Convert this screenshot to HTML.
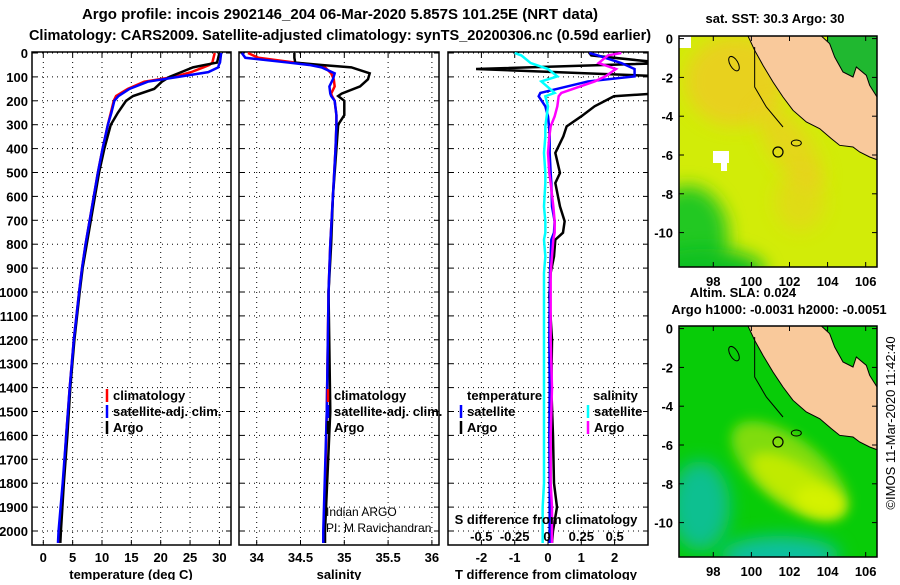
<!DOCTYPE html>
<html><head><meta charset="utf-8"><style>
body{margin:0;background:#fff;width:900px;height:580px;overflow:hidden}
svg text{font-family:"Liberation Sans",sans-serif;font-weight:bold;font-size:13px;fill:#000}
</style></head><body>
<svg id="s" width="900" height="580" viewBox="0 0 900 580">
<defs>
<clipPath id="c1"><rect x="32" y="52" width="199" height="493"/></clipPath>
<clipPath id="c2"><rect x="239" y="52" width="200" height="493"/></clipPath>
<clipPath id="c3"><rect x="448" y="52" width="200" height="493"/></clipPath>
<clipPath id="cm1"><rect x="679" y="36" width="198" height="231"/></clipPath>
<clipPath id="cm2"><rect x="679" y="326" width="198" height="231"/></clipPath>
<filter id="bl" x="-50%" y="-50%" width="200%" height="200%"><feGaussianBlur stdDeviation="9"/></filter>
<filter id="bl2" x="-50%" y="-50%" width="200%" height="200%"><feGaussianBlur stdDeviation="6"/></filter>
</defs>
<text x="340" y="19" text-anchor="middle" style="font-size:15px">Argo profile: incois 2902146_204 06-Mar-2020 5.857S 101.25E (NRT data)</text>
<text x="340" y="40" text-anchor="middle" style="font-size:14.5px">Climatology: CARS2009. Satellite-adjusted climatology: synTS_20200306.nc (0.59d earlier)</text>
<g id="g"></g>
</svg>
<script>
// depth levels (dbar)
const depthT = [0,40,50,60,80,100,120,150,180,200,250,300,400,500,600,700,800,900,1000,1200,1400,1600,1800,2000,2050];
const tempArgo = [30,29.6,27.5,25.5,23.5,21.5,20.2,18.9,15.3,14.1,12.7,11.5,10.4,9.5,8.8,8.1,7.4,6.7,6.2,5.3,4.6,4.1,3.5,3.0,2.9];
const tempClim = [29.2,28.8,28.3,27.3,25.2,22.3,17.2,14.4,12.4,12.0,11.5,11.0,10.1,9.3,8.6,7.9,7.2,6.6,6.1,5.2,4.5,3.9,3.4,2.8,2.6];
const tempSat  = [30.3,30.1,29.9,29.8,28.1,23.0,17.8,14.7,12.8,12.1,11.6,11.0,10.1,9.3,8.6,7.9,7.2,6.6,6.1,5.2,4.5,3.9,3.3,2.6,2.5];
const depthS = [0,20,40,50,60,85,110,140,170,180,200,260,300,400,600,800,1000,1500,2000,2050];
const salArgo = [34.43,34.43,34.44,34.74,35.08,35.29,35.27,35.18,34.97,34.93,35.0,35.0,34.93,34.91,34.87,34.85,34.82,34.84,34.78,34.78];
const salClim = [33.9,34.02,34.44,34.67,34.78,34.85,34.88,34.89,34.85,34.86,34.89,34.91,34.91,34.9,34.87,34.84,34.82,34.8,34.77,34.76];
const salSat  = [33.83,33.87,34.36,34.6,34.74,34.89,34.87,34.83,34.84,34.85,34.89,34.91,34.91,34.9,34.87,34.84,34.82,34.8,34.76,34.76];
const depthD = [0,10,42,67,98,119,167,181,223,265,307,349,418,502,544,642,704,752,781,851,920,1018,1200,1400,1600,1800,1900,2000,2050];
const tdiffArgo = [1.24,1.3,3.5,-2.16,3.5,3.5,3.5,1.98,1.4,1.0,0.56,0.46,0.22,0.36,0.22,0.36,0.5,0.45,0.22,0.18,0.08,0.04,0.12,0.1,0.15,0.18,0.27,0.15,0.12];
const tdiffSat = [1.24,1.5,2.2,2.6,2.6,1.2,-0.23,-0.28,-0.08,0,0.03,0.05,0.05,0.08,0.1,0.12,0.2,0.18,0.1,0.08,0.06,0.05,0.04,0.05,0.04,0.05,0.05,0.05,0.05];
const sdiffSat = [-0.25,-0.2,-0.13,0.0,0.07,-0.05,0.05,-0.02,0,-0.01,-0.02,-0.02,-0.03,-0.02,-0.02,-0.03,-0.02,-0.02,-0.03,-0.02,-0.03,-0.03,-0.03,-0.03,-0.03,-0.03,-0.04,-0.04,-0.04];
const sdiffArgo = [0.55,0.45,0.38,0.51,0.43,0.35,0.1,0.08,0.07,0.05,0.02,0.01,0,0.01,0.02,0.04,0.05,0.05,0.04,0.03,0.02,0.02,0.02,0.03,0.02,0.02,0.03,0.03,0.03];
const depthTicks = [0,100,200,300,400,500,600,700,800,900,1000,1100,1200,1300,1400,1500,1600,1700,1800,1900,2000];
const tTicks = [0,5,10,15,20,25,30];
const sTicks = [34,34.5,35,35.5,36];
const dTicks = [-2,-1,0,1,2];
const sdTicks = [-0.5,-0.25,0,0.25,0.5];
const lonTicks = [98,100,102,104,106];
const latTicks = [0,-2,-4,-6,-8,-10];

const NS='http://www.w3.org/2000/svg', G=document.getElementById('g');
function el(t,a,p){const e=document.createElementNS(NS,t);for(const k in a)e.setAttribute(k,a[k]);(p||G).appendChild(e);return e;}
function txt(x,y,s,anchor,extra){const e=el('text',Object.assign({x:x,y:y,'text-anchor':anchor||'start'},extra||{}));e.textContent=s;return e;}
const yD=d=>53+0.239*d;
const xT=t=>43.3+5.87*t;
const xS=s=>256.7+87.6*(s-34);
const xTd=t=>548+33.3*t;
const xSd=s=>548+133.3*s;
const lonX=(o,l)=>o+ (l-96.2)*19.05;
const latY=(o,l)=>o+ (0-l)*19.4 + 2.6;

function panel(x0,w,name){
  const r=el('rect',{x:x0,y:52,width:w,height:493,fill:'none',stroke:'#000','stroke-width':1.5});
  
  
  depthTicks.forEach(d=>{el('line',{x1:x0,x2:x0+w,y1:yD(d),y2:yD(d),stroke:'#000','stroke-width':1,'stroke-dasharray':'1,4'});
    el('line',{x1:x0,x2:x0+5,y1:yD(d),y2:yD(d),stroke:'#000'});el('line',{x1:x0+w-5,x2:x0+w,y1:yD(d),y2:yD(d),stroke:'#000'});});
}
function vgrid(xs){xs.forEach(x=>{el('line',{x1:x,x2:x,y1:52,y2:545,stroke:'#000','stroke-dasharray':'1,4'});el('line',{x1:x,x2:x,y1:540,y2:545,stroke:'#000'});el('line',{x1:x,x2:x,y1:52,y2:57,stroke:'#000'});});}
function line(depths,vals,xf,color,clip,name){
  const p=el('polyline',{points:depths.map((d,i)=>xf(vals[i])+','+yD(d)).join(' '),fill:'none',stroke:color,'stroke-width':2.5,'clip-path':'url(#'+clip+')'});
  
  
}
function legend(x,y,color,label,name){
  el('line',{x1:x,x2:x,y1:y-11,y2:y+2,stroke:color,'stroke-width':2.5});
  const t=txt(x+6,y,label);
  
  
}

// panel 1
panel(32,199,'temperature-panel');
vgrid(tTicks.map(xT));
depthTicks.forEach(d=>{const t=txt(28,yD(d)+5,String(d),'end');});
tTicks.forEach(v=>txt(xT(v),562,String(v),'middle'));
const xt1=txt(131,579,'temperature (deg C)','middle');
line(depthT,tempClim,xT,'#f00','c1','temp-climatology-line');
line(depthT,tempArgo,xT,'#000','c1','temp-argo-line');
line(depthT,tempSat,xT,'#00f','c1','temp-satellite-line');
legend(107,400,'#f00','climatology','legend-climatology');
legend(107,416,'#00f','satellite-adj. clim.','legend-satellite-adj');
legend(107,432,'#000','Argo','legend-argo');

// panel 2
panel(239,200,'salinity-panel');
vgrid(sTicks.map(xS));
sTicks.forEach(v=>txt(xS(v),562,String(v),'middle'));
const xt2=txt(339,579,'salinity','middle');
line(depthS,salClim,xS,'#f00','c2','sal-climatology-line');
line(depthS,salArgo,xS,'#000','c2','sal-argo-line');
line(depthS,salSat,xS,'#00f','c2','sal-satellite-line');
legend(328,400,'#f00','climatology','legend-climatology-sal');
legend(328,416,'#00f','satellite-adj. clim.','legend-satellite-adj-sal');
legend(328,432,'#000','Argo','legend-argo-sal');
txt(326,516,'Indian ARGO','start',{style:'font-weight:normal;font-size:12px'});
txt(326,532,'PI: M Ravichandran','start',{style:'font-weight:normal;font-size:12px'});

// panel 3
panel(448,200,'difference-panel');
vgrid(dTicks.map(xTd));
dTicks.forEach(v=>txt(xTd(v),562,String(v),'middle'));
const xt3=txt(546,579,'T difference from climatology','middle');
line(depthD,tdiffArgo,xTd,'#000','c3','tdiff-argo-line');
line(depthD,tdiffSat,xTd,'#00f','c3','tdiff-satellite-line');
line(depthD,sdiffArgo,xSd,'#f0f','c3','sdiff-argo-line');
line(depthD,sdiffSat,xSd,'#0ff','c3','sdiff-satellite-line');
txt(467,400,'temperature');txt(593,400,'salinity');
legend(461,416,'#00f','satellite','legend-t-satellite');
legend(461,432,'#000','Argo','legend-t-argo');
legend(588,416,'#0ff','satellite','legend-s-satellite');
legend(588,432,'#f0f','Argo','legend-s-argo');
txt(546,524,'S difference from climatology','middle');
sdTicks.forEach(v=>txt(xSd(v)+(v===0?-1:0),541,String(v),'middle'));

// maps
const landRel=[[325,107],[345,150],[370,195],[400,245],[430,290],[460,330],[500,365],[540,385],[575,415],[600,435],[640,440],[660,455],[690,470],[712,478],[712,290],[690,255],[680,225],[650,200],[640,230],[610,215],[585,170],[570,130],[545,107]];
function map(top,kind,name){
  const grp=el('g',{'clip-path':'url(#'+(kind===1?'cm1':'cm2')+')'});
  
  
  const P=(zx,zy)=>[679+(zx-118)/3, top+(zy-107)/3];
  if(kind===1){
    el('rect',{x:679,y:top,width:198,height:231,fill:'#d2ec08'},grp);
    el('ellipse',{cx:735,cy:top+45,rx:50,ry:45,fill:'#f0c828',opacity:0.75,filter:'url(#bl)'},grp);
    el('ellipse',{cx:790,cy:top+110,rx:20,ry:50,transform:'rotate(-35 790 '+(top+110)+')',fill:'#f0c828',opacity:0.6,filter:'url(#bl)'},grp);
    el('ellipse',{cx:800,cy:top+165,rx:25,ry:30,fill:'#f0c828',opacity:0.45,filter:'url(#bl)'},grp);
    el('ellipse',{cx:688,cy:top+200,rx:40,ry:50,fill:'#20c820',filter:'url(#bl)'},grp);
    el('ellipse',{cx:705,cy:top+235,rx:60,ry:22,fill:'#10c020',filter:'url(#bl)'},grp);
    el('rect',{x:679,y:top,width:12,height:12,fill:'#fff'},grp);
    el('rect',{x:713,y:top+115,width:16,height:12,fill:'#fff'},grp);
    el('rect',{x:721,y:top+127,width:6,height:8,fill:'#fff'},grp);
    el('rect',{x:827,y:top,width:50,height:60,fill:'#20b830'},grp);
  } else {
    el('rect',{x:679,y:top,width:198,height:231,fill:'#08cc08'},grp);
    el('ellipse',{cx:700,cy:top+180,rx:30,ry:45,fill:'#10c090',filter:'url(#bl)'},grp);
    el('ellipse',{cx:780,cy:top+230,rx:60,ry:20,fill:'#10c0a0',filter:'url(#bl)'},grp);
    el('ellipse',{cx:790,cy:top+145,rx:70,ry:32,transform:'rotate(38 790 '+(top+145)+')',fill:'#80dc10',filter:'url(#bl2)'},grp);
    el('ellipse',{cx:795,cy:top+158,rx:50,ry:20,transform:'rotate(32 795 '+(top+158)+')',fill:'#c0ea00',filter:'url(#bl2)'},grp);
    el('ellipse',{cx:820,cy:top+175,rx:25,ry:14,transform:'rotate(15 820 '+(top+175)+')',fill:'#d4f200',filter:'url(#bl2)'},grp);
  }
  el('polygon',{points:landRel.map(p=>P(p[0],p[1]).join(',')).join(' '),fill:'#f9c99b',stroke:'#000','stroke-width':1},grp);
  el('ellipse',{cx:P(283,190)[0],cy:P(283,190)[1],rx:4,ry:8,transform:'rotate(-30 '+P(283,190).join(' ')+')',fill:'none',stroke:'#000'},grp);
  el('ellipse',{cx:P(470,428)[0],cy:P(470,428)[1],rx:5,ry:3,fill:'none',stroke:'#000'},grp);
  el('polyline',{points:[P(345,140),P(345,260),P(380,320),P(430,380)].map(p=>p.join(',')).join(' '),fill:'none',stroke:'#000'},grp);
  const c=P(415,455);
  const ci=el('circle',{cx:c[0],cy:c[1],r:5,fill:'none',stroke:'#000','stroke-width':1.2},grp);
  
  
  el('rect',{x:679,y:top,width:198,height:231,fill:'none',stroke:'#000','stroke-width':1.5});
  latTicks.forEach(l=>{const y=latY(top,l);txt(673,y+5,String(l),'end');el('line',{x1:679,x2:684,y1:y,y2:y,stroke:'#000'});el('line',{x1:872,x2:877,y1:y,y2:y,stroke:'#000'});});
  lonTicks.forEach(l=>{const x=lonX(679,l);txt(x,top+250,String(l),'middle');el('line',{x1:x,x2:x,y1:top,y2:top+5,stroke:'#000'});el('line',{x1:x,x2:x,y1:top+226,y2:top+231,stroke:'#000'});});
}
map(36,1,'sst-map');
map(326,2,'sla-map');
txt(775,23,'sat. SST: 30.3 Argo: 30','middle');
txt(743,297,'Altim. SLA: 0.024','middle');
txt(779,314,'Argo h1000: -0.0031 h2000: -0.0051','middle');
const cp=txt(0,0,'©IMOS 11-Mar-2020 11:42:40','middle',{transform:'translate(895,423) rotate(-90)',style:'font-weight:normal;font-size:13px'});


</script>
</body></html>
